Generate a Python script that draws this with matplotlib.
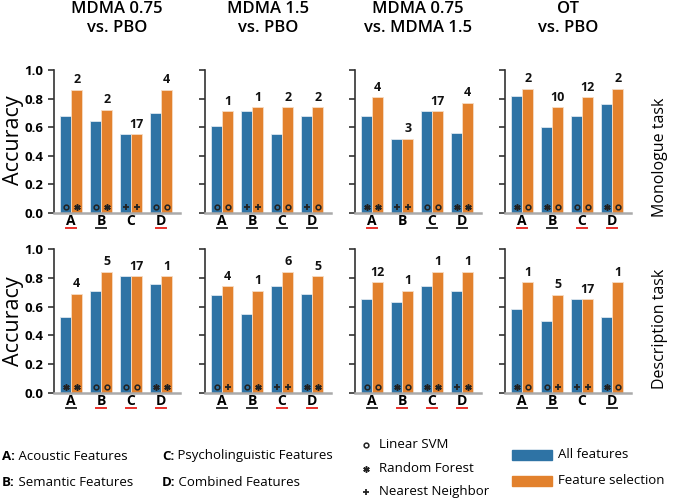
import matplotlib
matplotlib.use("Agg")
import matplotlib.pyplot as plt
import matplotlib.transforms as mtransforms
from matplotlib.patches import Rectangle
import numpy as np

plt.rcParams["font.family"] = ["Open Sans", "DejaVu Sans"]

BLUE = "#2E73A5"
ORANGE = "#E2812D"
RED = "#E8302A"
DARK = "#222222"

panel_titles = ["MDMA 0.75\nvs. PBO", "MDMA 1.5\nvs. PBO", "MDMA 0.75\nvs. MDMA 1.5", "OT\nvs. PBO"]
row_labels = ["Monologue task", "Description task"]
feature_sets = ["A", "B", "C", "D"]

# Monologue task
all_mono = [[0.68, 0.64, 0.55, 0.70], [0.61, 0.71, 0.55, 0.68],
            [0.68, 0.52, 0.71, 0.56], [0.82, 0.60, 0.68, 0.76]]
sel_mono = [[0.86, 0.72, 0.55, 0.86], [0.71, 0.74, 0.74, 0.74],
            [0.81, 0.52, 0.71, 0.77], [0.87, 0.74, 0.81, 0.87]]
nfeat_mono = [[2, 2, 17, 4], [1, 1, 2, 2], [4, 3, 17, 4], [2, 10, 12, 2]]
clf_all_mono = [["o", "o", "+", "o"], ["o", "+", "o", "+"],
                ["*", "+", "o", "*"], ["*", "*", "o", "*"]]
clf_sel_mono = [["*", "*", "+", "o"], ["o", "+", "o", "o"],
                ["*", "+", "o", "*"], ["o", "o", "o", "o"]]
underline_mono = [["r", "k", "", "r"], ["k", "k", "k", "k"],
                  ["r", "", "k", "k"], ["r", "k", "r", "r"]]

# Description task
all_desc = [[0.53, 0.71, 0.81, 0.76], [0.68, 0.55, 0.74, 0.69],
            [0.65, 0.63, 0.74, 0.71], [0.58, 0.50, 0.65, 0.53]]
sel_desc = [[0.69, 0.84, 0.81, 0.81], [0.74, 0.71, 0.84, 0.81],
            [0.77, 0.71, 0.84, 0.84], [0.77, 0.68, 0.65, 0.77]]
nfeat_desc = [[4, 5, 17, 1], [4, 1, 6, 5], [12, 1, 1, 1], [1, 5, 17, 1]]
clf_all_desc = [["*", "o", "o", "*"], ["o", "o", "+", "*"],
                ["o", "*", "*", "+"], ["*", "o", "+", "*"]]
clf_sel_desc = [["*", "o", "o", "*"], ["+", "*", "+", "*"],
                ["o", "o", "*", "*"], ["o", "+", "+", "o"]]
underline_desc = [["k", "r", "r", "r"], ["k", "k", "r", "r"],
                  ["k", "r", "r", "r"], ["k", "k", "", "k"]]

rows = [
    (all_mono, sel_mono, nfeat_mono, clf_all_mono, clf_sel_mono, underline_mono),
    (all_desc, sel_desc, nfeat_desc, clf_all_desc, clf_sel_desc, underline_desc),
]

feature_names = ["Acoustic Features", "Semantic Features",
                 "Psycholinguistic Features", "Combined Features"]
classifier_names = ["Linear SVM", "Random Forest", "Nearest Neighbor"]
series_names = ["All features", "Feature selection"]

MARKERS = {
    "o": dict(marker="o", ms=3.4, mfc="none", mec=DARK, mew=1.1),
    "*": dict(marker=(6, 2, 0), ms=4.6, mec=DARK, mew=1.1),
    "+": dict(marker="+", ms=4.6, mec=DARK, mew=1.3),
}


def draw_marker(ax, x, y, key, **kw):
    ax.plot([x], [y], linestyle="none", color=DARK, **MARKERS[key], **kw)


W, H = 685, 500
fig = plt.figure(figsize=(W / 100, H / 100), dpi=100)

col_left = [54, 205, 355, 505]
ax_w = 126
row_top = [70, 249]
ax_h = [143, 144]
ylabel_y = [140, 321]
rowlabel_y = [157, 329]

bw = 0.35
x = np.arange(len(feature_sets))

for r, (allv, selv, nfeat, ca, cs, ul) in enumerate(rows):
    for c in range(4):
        left = col_left[c] / W
        bottom = 1 - (row_top[r] + ax_h[r]) / H
        ax = fig.add_axes([left, bottom, ax_w / W, ax_h[r] / H])
        ax.bar(x - bw / 2 - 0.01, allv[c], width=bw, color=BLUE,
               edgecolor="#dde7f0", linewidth=0.6)
        ax.bar(x + bw / 2 + 0.01, selv[c], width=bw, color=ORANGE,
               edgecolor="#f6dcc4", linewidth=0.6)
        ax.set_xlim(-0.57, 3.63)
        ax.set_ylim(0, 1.0)

        for i in range(4):
            draw_marker(ax, x[i] - bw / 2 - 0.01, 0.045, ca[c][i])
            draw_marker(ax, x[i] + bw / 2 + 0.01, 0.045, cs[c][i])
            ax.text(x[i] + bw / 2 + 0.01, selv[c][i] + 0.025, str(nfeat[c][i]),
                    ha="center", va="bottom", fontsize=9, fontweight="bold",
                    color="#111111")
            if ul[c][i]:
                trans = mtransforms.blended_transform_factory(ax.transData, ax.transAxes)
                ax.plot([x[i] - 0.16, x[i] + 0.16], [-0.105, -0.105],
                        transform=trans, clip_on=False, lw=1.4,
                        color=RED if ul[c][i] == "r" else "#333333")

        ax.set_xticks(x, feature_sets)
        ax.tick_params(axis="x", length=0, pad=1, labelsize=10)
        for lab in ax.get_xticklabels():
            lab.set_fontweight("bold")
        ax.set_yticks(np.arange(0, 1.01, 0.2))
        ax.tick_params(axis="y", direction="out", length=4, width=1.2, color="#333333")
        if c == 0:
            ax.set_yticklabels([f"{v:.1f}" for v in np.arange(0, 1.01, 0.2)],
                               fontweight="bold", fontsize=9.5)
        else:
            ax.set_yticklabels([])
        ax.spines["top"].set_visible(False)
        ax.spines["right"].set_visible(False)
        ax.spines["left"].set_color("#333333")
        ax.spines["left"].set_linewidth(1.2)
        ax.spines["bottom"].set_color("#aaaaaa")
        ax.spines["bottom"].set_linewidth(1.8)

        if r == 0:
            ax.set_title(panel_titles[c], fontsize=12, fontweight="semibold",
                         pad=27, linespacing=1.25)

    fig.text(14 / W, 1 - ylabel_y[r] / H, "Accuracy", rotation=90,
             ha="center", va="center", fontsize=15.5)
    fig.text(660 / W, 1 - rowlabel_y[r] / H, row_labels[r], rotation=90,
             ha="center", va="center", fontsize=11.5)

# legend area
leg = fig.add_axes([0, 0, 1, 1])
leg.axis("off")
leg.set_xlim(0, W)
leg.set_ylim(H, 0)

feat_pos = [(2, 456), (2, 482), (162, 456), (162, 482)]
for (px, py), letter, name in zip(feat_pos, feature_sets, feature_names):
    t = leg.text(px, py, f"{letter}:", fontsize=9.5, fontweight="bold",
                 ha="left", va="center")
    leg.annotate(" " + name, xy=(1, 0.5), xycoords=t, ha="left", va="center",
                 fontsize=9.5)

for key, name, py in zip(["o", "*", "+"], classifier_names, [445, 469, 492]):
    draw_marker(leg, 366, py, key, clip_on=False)
    leg.text(379, py, name, fontsize=9.5, ha="left", va="center")

for color, name, py in zip([BLUE, ORANGE], series_names, [455, 481]):
    leg.add_patch(Rectangle((512, py - 5), 40, 10, color=color, clip_on=False))
    leg.text(558, py, name, fontsize=9.5, ha="left", va="center")

fig.savefig("out.png", dpi=100)
